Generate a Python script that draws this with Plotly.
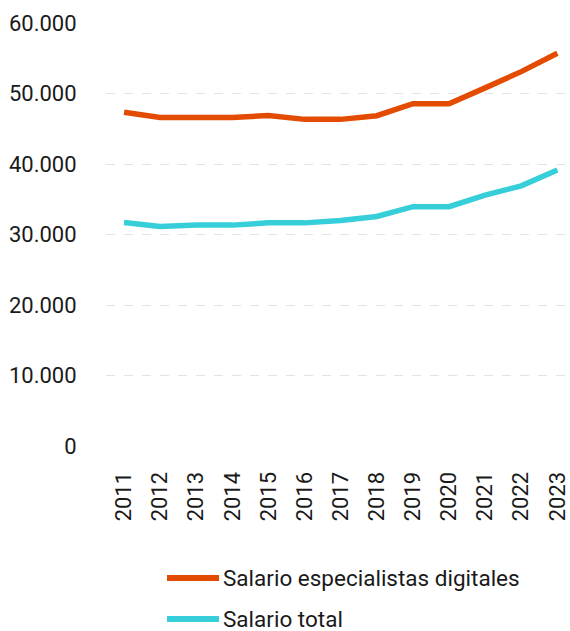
import plotly.graph_objects as go

# Salario medio anual (euros)
years = [2011, 2012, 2013, 2014, 2015, 2016, 2017, 2018, 2019, 2020, 2021, 2022, 2023]
salario_digitales = [47350, 46600, 46600, 46600, 46880, 46330, 46330, 46850, 48550, 48550, 50800, 53100, 55700]
salario_total = [31700, 31150, 31330, 31330, 31650, 31650, 31980, 32550, 33950, 33950, 35600, 36900, 39150]
series_names = ["Salario especialistas digitales", "Salario total"]
series_colors = ["#E34C00", "#36CFD9"]

FONT = "Roboto, Arial, sans-serif"
TEXT_COLOR = "#1a1a1a"

fig = go.Figure()
for name, values, color in zip(series_names, [salario_digitales, salario_total], series_colors):
    fig.add_trace(go.Scatter(
        x=years, y=values, name=name, mode="lines",
        line=dict(color=color, width=5.5),
        showlegend=False,
    ))

# Legend drawn below the plot: a short thick line followed by the label
plot_left, plot_width = 106, 464
plot_bottom, plot_height = 446, 423

def px_to_paper_x(px):
    return (px - plot_left) / plot_width

def px_to_paper_y(py):
    return (plot_bottom - py) / plot_height

legend_rows = [578, 619]
for name, color, row in zip(series_names, series_colors, legend_rows):
    fig.add_shape(
        type="line", xref="paper", yref="paper",
        x0=px_to_paper_x(167), x1=px_to_paper_x(219),
        y0=px_to_paper_y(row), y1=px_to_paper_y(row),
        line=dict(color=color, width=6),
    )
    fig.add_annotation(
        xref="paper", yref="paper",
        x=px_to_paper_x(221), y=px_to_paper_y(row),
        text=name, showarrow=False, xanchor="left", yanchor="middle",
        font=dict(family=FONT, size=22.5, color=TEXT_COLOR),
    )

fig.update_layout(
    width=570, height=631,
    margin=dict(l=plot_left, r=0, t=23, b=185),
    paper_bgcolor="white", plot_bgcolor="white",
    separators=",.",
    font=dict(family=FONT, color=TEXT_COLOR),
    xaxis=dict(
        range=[2010.5, 2023.35],
        tickmode="array", tickvals=years, ticktext=[str(y) for y in years],
        tickangle=-90, tickfont=dict(size=22, family=FONT, color=TEXT_COLOR),
        showgrid=False, zeroline=False, showline=False,
        ticks="outside", ticklen=16, tickcolor="rgba(0,0,0,0)",
    ),
    yaxis=dict(
        range=[0, 60000], tickvals=[0, 10000, 20000, 30000, 40000, 50000, 60000],
        tickformat=",.0f", tickfont=dict(size=22, family=FONT, color=TEXT_COLOR),
        showgrid=True, gridcolor="#e3e3e3", griddash="dash", gridwidth=1,
        zeroline=False, showline=False,
        ticks="outside", ticklen=24, tickcolor="rgba(0,0,0,0)",
    ),
)

fig.write_html("out.html")
